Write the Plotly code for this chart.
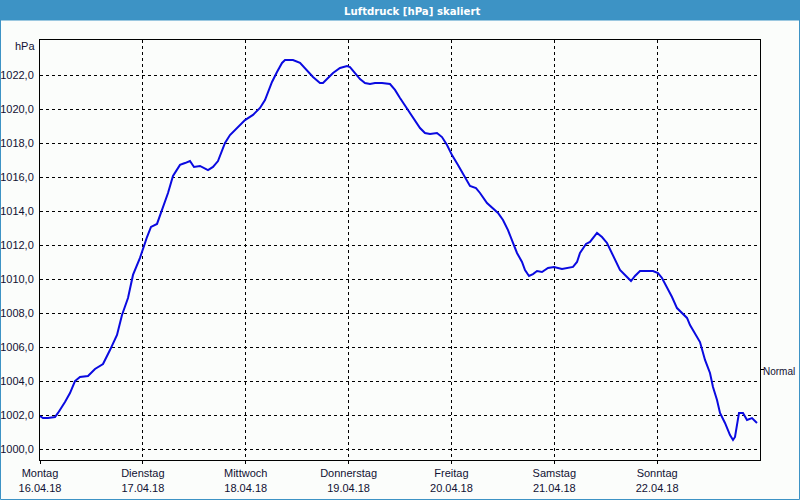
import pandas as pd
import plotly.graph_objects as go

# ---- data ----
hours = [0, 0.7, 1.87, 3.5, 4.2, 5.13, 5.83, 7.0, 8.17, 9.33, 11.2, 12.83, 14.7, 16.33, 17.97,
         19.13, 20.53, 21.7, 23.33, 24.97, 25.9, 27.3, 28.7, 29.87, 31.03, 32.67, 33.83, 35.0,
         35.93, 37.33, 39.2, 40.37, 41.53, 42.47, 43.17, 44.33, 45.97, 47.83, 49.7, 51.33, 52.5,
         53.2, 54.13, 55.3, 56.47, 57.17, 59.03, 60.67, 62.3, 63.7, 65.33, 66.03, 67.2, 68.37,
         70.0, 71.63, 72.33, 73.5, 74.67, 75.83, 77.0, 78.17, 79.8, 81.67, 82.83, 84.0, 86.33,
         88.67, 89.83, 91.0, 92.63, 93.8, 94.97, 96.13, 97.53, 99.17, 100.33, 101.73, 102.67,
         104.3, 106.87, 108.03, 109.2, 110.37, 111.3, 112.47, 113.17, 114.1, 115.03, 115.97,
         117.13, 118.53, 119.93, 121.8, 123.67, 124.37, 125.3, 126.0, 127.4, 128.33, 129.97,
         131.13, 132.3, 133.47, 134.63, 135.33, 136.97, 137.9, 138.83, 140.0, 143.03, 144.2,
         145.13, 146.3, 147.47, 148.63, 149.8, 150.97, 151.67, 152.83, 154.0, 155.17, 156.33,
         157.03, 157.97, 158.67, 159.83, 161.0, 161.7, 162.17, 162.63, 163.1, 164.03, 164.97,
         166.13, 166.6, 167.3]
pressure = [1001.94, 1001.82, 1001.82, 1001.88, 1002.12, 1002.47, 1002.76, 1003.29, 1004.0,
            1004.24, 1004.29, 1004.71, 1005.0, 1005.82, 1006.71, 1007.88, 1008.88, 1010.24,
            1011.24, 1012.47, 1013.06, 1013.24, 1014.18, 1015.06, 1016.06, 1016.71, 1016.82,
            1016.94, 1016.59, 1016.65, 1016.41, 1016.59, 1016.94, 1017.59, 1018.0, 1018.47,
            1018.88, 1019.35, 1019.65, 1020.06, 1020.53, 1021.0, 1021.59, 1022.18, 1022.71,
            1022.88, 1022.88, 1022.71, 1022.29, 1021.88, 1021.53, 1021.53, 1021.82, 1022.12,
            1022.41, 1022.53, 1022.47, 1022.12, 1021.76, 1021.53, 1021.47, 1021.53, 1021.53,
            1021.47, 1021.12, 1020.65, 1019.76, 1018.88, 1018.59, 1018.53, 1018.59, 1018.35,
            1017.88, 1017.29, 1016.71, 1015.94, 1015.47, 1015.35, 1015.06, 1014.47, 1013.88,
            1013.47, 1012.88, 1012.12, 1011.53, 1011.0, 1010.53, 1010.18, 1010.29, 1010.47,
            1010.41, 1010.65, 1010.71, 1010.59, 1010.65, 1010.71, 1011.0, 1011.53, 1012.06,
            1012.18, 1012.71, 1012.47, 1012.12, 1011.53, 1010.94, 1010.53, 1010.12, 1009.88,
            1010.18, 1010.47, 1010.47, 1010.35, 1010.06, 1009.53, 1008.94, 1008.29, 1008.0,
            1007.71, 1007.29, 1006.82, 1006.29, 1005.24, 1004.47, 1003.65, 1002.88, 1002.12,
            1001.53, 1000.82, 1000.53, 1000.71, 1001.53, 1002.12, 1002.12, 1001.71, 1001.82,
            1001.71, 1001.53]
day_names = ["Montag", "Dienstag", "Mittwoch", "Donnerstag", "Freitag", "Samstag", "Sonntag"]
day_dates = ["16.04.18", "17.04.18", "18.04.18", "19.04.18", "20.04.18", "21.04.18", "22.04.18"]
y_ticks = [1000, 1002, 1004, 1006, 1008, 1010, 1012, 1014, 1016, 1018, 1020, 1022]
normal_value = 1004.7
normal_label = "Normal"
title_text = "Luftdruck [hPa] skaliert"
unit_text = "hPa"

base = pd.Timestamp("2018-04-16")
times = base + pd.to_timedelta(hours, unit="h")
tick_vals = [base + pd.Timedelta(days=i) for i in range(len(day_names))]
tick_text = [f"{n}<br>{d}" for n, d in zip(day_names, day_dates)]

bg = "#fbfdfb"
blue_bar = "#3d93c5"
font_main = "Liberation Sans, Arial, sans-serif"
y_range = [999.353, 1024.059]

fig = go.Figure()
fig.add_trace(go.Scatter(x=times, y=pressure, mode="lines",
                         line=dict(color="#0a0ae0", width=2), hoverinfo="skip",
                         showlegend=False))
fig.add_trace(go.Scatter(x=[times[0]], y=[normal_value], yaxis="y2", mode="markers",
                         marker=dict(opacity=0), showlegend=False, hoverinfo="skip"))

# pixel->paper helpers
L, R, T, B = 40, 40, 40, 40
W, H = 800, 500
pw, ph = W - L - R, H - T - B
def px(x):
    return (x - L) / pw
def py(y):
    return (H - B - y) / ph

fig.update_layout(
    width=W, height=H,
    margin=dict(l=L, r=R, t=T, b=B, autoexpand=False),
    paper_bgcolor=bg, plot_bgcolor=bg,
    separators=",.",
    font=dict(family=font_main, size=11, color="#111133"),
    xaxis=dict(
        range=[base, base + pd.Timedelta(days=7)],
        tickvals=tick_vals, ticktext=tick_text,
        showgrid=True, gridcolor="#000000", griddash="3px,3px", gridwidth=1,
        showline=True, linecolor="#000000", linewidth=1, mirror=True,
        ticks="outside", ticklen=3, tickcolor="#000000",
        zeroline=False, fixedrange=True, automargin=False,
    ),
    yaxis=dict(
        range=y_range,
        tickvals=y_ticks, tickformat=".1f",
        showgrid=True, gridcolor="#000000", griddash="3px,3px", gridwidth=1,
        showline=True, linecolor="#000000", linewidth=1, mirror=True,
        ticks="", ticklabelstandoff=3,
        zeroline=False, automargin=False,
    ),
    yaxis2=dict(
        range=y_range, overlaying="y", side="right",
        tickvals=[normal_value], showticklabels=False,
        ticks="outside", ticklen=3, tickcolor="#000000",
        showgrid=False, showline=False, zeroline=False, automargin=False,
    ),
    shapes=[
        dict(type="rect", xref="paper", yref="paper",
             x0=px(0), x1=px(800), y0=py(20), y1=py(0),
             fillcolor=blue_bar, line=dict(width=0), layer="above"),
        dict(type="rect", xref="paper", yref="paper",
             x0=px(0.5), x1=px(799.5), y0=py(499.5), y1=py(20),
             fillcolor="rgba(0,0,0,0)", line=dict(color=blue_bar, width=1)),
    ],
    annotations=[
        dict(text=f"<b>{title_text}</b>", xref="paper", yref="paper",
             x=px(412), y=py(11), xanchor="center", yanchor="middle", showarrow=False,
             font=dict(family="Liberation Sans Narrow, DejaVu Sans Condensed, Arial Narrow, sans-serif",
                       size=11.3, color="#ffffff")),
        dict(text=unit_text, xref="paper", yref="paper",
             x=px(37), y=py(46), xanchor="right", yanchor="middle", showarrow=False,
             font=dict(family=font_main, size=11, color="#111133")),
        dict(text=normal_label, xref="paper", yref="y",
             x=px(763), y=normal_value, xanchor="left", yanchor="middle", showarrow=False,
             xshift=-1, yshift=-2, borderpad=0,
             font=dict(family=font_main, size=10, color="#111133")),
    ],
)

fig.write_html("out.html")
